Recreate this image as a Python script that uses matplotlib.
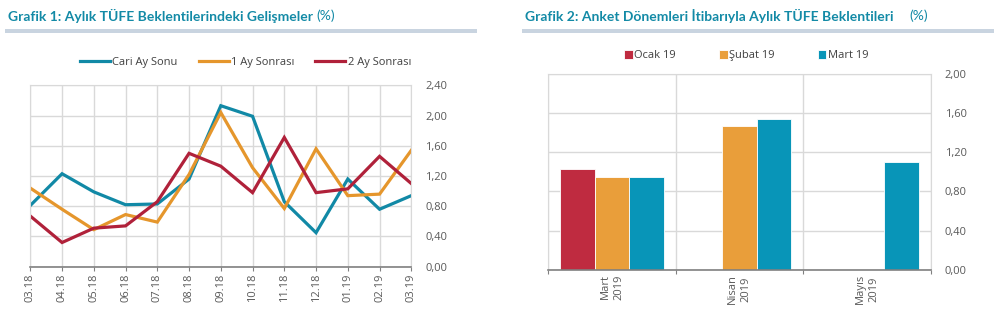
import matplotlib
matplotlib.use("Agg")
import matplotlib.pyplot as plt
from matplotlib.patches import Rectangle
import numpy as np

# ---------------- data ----------------
months = ["03.18", "04.18", "05.18", "06.18", "07.18", "08.18", "09.18",
          "10.18", "11.18", "12.18", "01.19", "02.19", "03.19"]
cari_ay = [0.81, 1.23, 0.99, 0.82, 0.83, 1.16, 2.13, 1.99, 0.86, 0.45, 1.16, 0.76, 0.94]
bir_ay = [1.04, 0.76, 0.49, 0.69, 0.59, 1.22, 2.04, 1.31, 0.77, 1.56, 0.94, 0.96, 1.54]
iki_ay = [0.67, 0.32, 0.51, 0.54, 0.86, 1.50, 1.33, 0.98, 1.71, 0.98, 1.03, 1.46, 1.10]
line_names = ["Cari Ay Sonu", "1 Ay Sonrası", "2 Ay Sonrası"]

bar_cats = ["Mart\n2019", "Nisan\n2019", "Mayıs\n2019"]
bar_series = ["Ocak 19", "Şubat 19", "Mart 19"]
ocak19 = [1.03, np.nan, np.nan]
subat19 = [0.95, 1.47, np.nan]
mart19 = [0.95, 1.54, 1.10]

title1 = "Grafik 1: Aylık TÜFE Beklentilerindeki Gelişmeler"
title2 = "Grafik 2: Anket Dönemleri İtibarıyla Aylık TÜFE Beklentileri"

# ---------------- style ----------------
TEAL_L, ORANGE_L, RED_L = "#1189a6", "#e5962c", "#b0213a"
RED_B, ORANGE_B, TEAL_B = "#bf2b40", "#e99e3a", "#0895b8"
TITLE_C = "#138aa6"
GRID = "#d9d9d9"
TXT = "#595959"
plt.rcParams["font.family"] = ["Open Sans", "DejaVu Sans"]

fig = plt.figure(figsize=(10, 3.28), dpi=100)

def fmt(v):
    return f"{v:.2f}".replace(".", ",")

# ---------------- titles ----------------
def title(x, text, gap, bar_x0, bar_x1):
    t = fig.text(x, 1 - 16 / 328, text, fontsize=10, fontweight="bold",
                 color=TITLE_C, family=["Lato", "DejaVu Sans"], va="center")
    fig.canvas.draw()
    bb = t.get_window_extent()
    fig.text(bb.x1 / 1000 + gap, 1 - 16 / 328, "(%)", fontsize=10,
             color=TITLE_C, family=["Lato", "DejaVu Sans"], va="center")
    fig.add_artist(Rectangle((bar_x0 / 1000, 1 - 33 / 328), (bar_x1 - bar_x0) / 1000,
                             4 / 328, transform=fig.transFigure,
                             facecolor="#c9d4e0", edgecolor="none"))

title(8 / 1000, title1, 0.003, 5, 477)
title(525 / 1000, title2, 0.016, 522, 994)

# ---------------- chart 1 ----------------
ax1 = fig.add_axes([0.0303, 1 - 266.7 / 328, 0.381, 181.4 / 328])
x = np.arange(len(months))
for vals, c, n in zip([cari_ay, bir_ay, iki_ay], [TEAL_L, ORANGE_L, RED_L], line_names):
    ax1.plot(x, vals, color=c, lw=2.3, label=n, solid_joinstyle="miter")
ax1.set_xlim(0, len(months) - 1)
ax1.set_ylim(0, 2.4)
yt = np.arange(0, 2.41, 0.4)
ax1.set_yticks(yt)
ax1.set_yticklabels([fmt(v) for v in yt])
ax1.yaxis.tick_right()
ax1.set_xticks(x)
ax1.set_xticklabels(months, rotation=90)
ax1.tick_params(axis="y", length=0, pad=10, labelsize=8, labelcolor=TXT)
ax1.tick_params(axis="x", length=3, color="#808080", labelsize=8, labelcolor=TXT, pad=2)
ax1.grid(True, color=GRID, lw=1)
ax1.set_axisbelow(True)
for s in ["left", "right", "top"]:
    ax1.spines[s].set_color(GRID)
ax1.spines["bottom"].set_color("#808080")
ax1.spines["bottom"].set_linewidth(1.2)
ax1.legend(loc="lower center", bbox_to_anchor=(0.565, 1.07), ncol=3, frameon=False,
           fontsize=8, handlelength=2.7, handletextpad=0.2, columnspacing=1.9,
           labelcolor="#404040", borderaxespad=0)

# ---------------- chart 2 ----------------
ax2 = fig.add_axes([0.5483, 1 - 270 / 328, 0.3824, 196.3 / 328])
xc = np.arange(len(bar_cats))
w = 0.27
for i, (vals, c, n) in enumerate(zip([ocak19, subat19, mart19], [RED_B, ORANGE_B, TEAL_B], bar_series)):
    ax2.bar(xc + (i - 1) * w, vals, width=w, color=c, edgecolor="white", lw=0.6, label=n)
ax2.set_xlim(-0.5, len(bar_cats) - 0.5)
ax2.set_ylim(0, 2.0)
yt2 = np.arange(0, 2.01, 0.4)
ax2.set_yticks(yt2)
ax2.set_yticklabels([fmt(v) for v in yt2])
ax2.yaxis.tick_right()
ax2.set_xticks(np.arange(-0.5, len(bar_cats)))
ax2.set_xticklabels([])
ax2.set_xticks(xc, minor=True)
ax2.set_xticklabels(bar_cats, minor=True, rotation=90, va="top", ha="center",
                    multialignment="center", linespacing=1.3)
ax2.tick_params(axis="x", which="major", length=3, color="#808080")
ax2.tick_params(axis="x", which="minor", length=0, labelsize=8, labelcolor=TXT, pad=3)
ax2.tick_params(axis="y", length=0, pad=10, labelsize=8, labelcolor=TXT)
ax2.grid(True, axis="y", color=GRID, lw=1)
ax2.grid(True, axis="x", which="major", color=GRID, lw=1)
ax2.set_axisbelow(True)
for s in ["left", "right", "top"]:
    ax2.spines[s].set_color(GRID)
ax2.spines["bottom"].set_color("#808080")
ax2.spines["bottom"].set_linewidth(1.2)
ax2.legend(loc="lower center", bbox_to_anchor=(0.518, 1.04), ncol=3, frameon=False,
           fontsize=8, handlelength=0.75, handleheight=0.75, handletextpad=0.15,
           columnspacing=3.9, labelcolor="#404040", borderaxespad=0)

fig.savefig("out.png", dpi=100, facecolor="white")
